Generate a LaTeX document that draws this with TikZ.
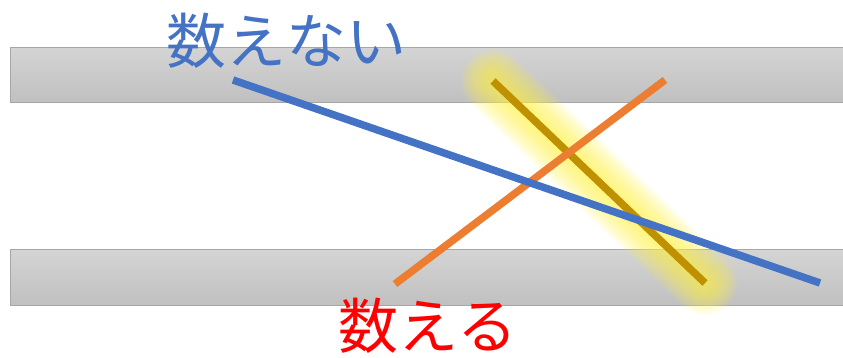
\documentclass[tikz,border=0pt]{standalone}
\usepackage{fontspec}
\newfontfamily\jpfont{Noto Sans CJK JP}
\definecolor{barTop}{HTML}{D4D4D4}
\definecolor{barBot}{HTML}{C0C0C0}
\definecolor{barEdge}{HTML}{A6A6A6}
\definecolor{lblue}{HTML}{4472C4}
\definecolor{lorange}{HTML}{ED7D31}
\definecolor{lgold}{HTML}{BF9000}
\definecolor{glow}{HTML}{FFF14A}
\tikzset{
  bar/.style={draw=barEdge, line width=1.2pt, top color=barTop, bottom color=barBot},
  seg/.style={line width=7.5pt},
  glowline/.style={line cap=round, draw=glow, opacity=0.08},
  lbl/.style={font=\jpfont\fontsize{60}{60}\selectfont, inner sep=0pt}
}
\begin{document}
\begin{tikzpicture}[x=1pt,y=-1pt]
\useasboundingbox (0,0) rectangle (843,357);
\node[bar, minimum width=840pt, minimum height=55pt, anchor=north west, inner sep=0pt] (topbar) at (10,47) {};
\node[bar, minimum width=840pt, minimum height=56pt, anchor=north west, inner sep=0pt] (botbar) at (10,249) {};
\coordinate (gA) at (493,81);
\coordinate (gB) at (705,283);
\foreach \w in {64,60,56,52,48,44,40,36,32,28,24,20,16,12} {
  \draw[glowline, line width=\w pt] (gA) -- (gB);
}
\coordinate (bA) at (233,80);
\coordinate (bB) at (820,283);
\coordinate (oA) at (395,284);
\coordinate (oB) at (665,80);
\draw[seg, lgold] (gA) -- (gB);
\draw[seg, lorange] (oA) -- (oB);
\draw[seg, lblue] (bA) -- (bB);
\node[lbl, text=lblue] (uncount) at (286,41) {数えない};
\node[lbl, text=red] (count) at (428,326) {数える};
\end{tikzpicture}
\end{document}
